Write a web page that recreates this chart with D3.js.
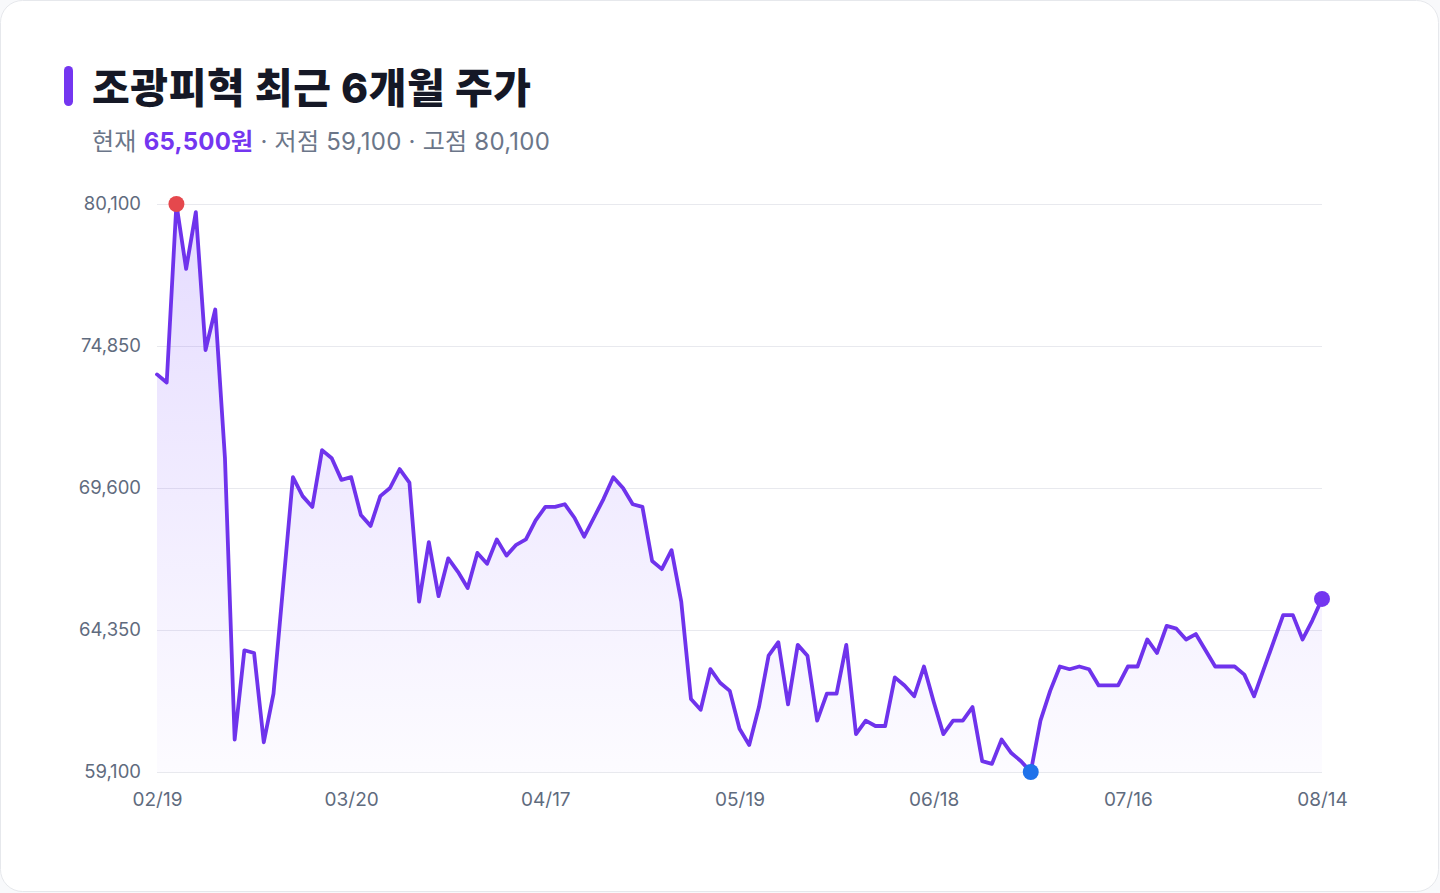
<!DOCTYPE html>
<html lang="ko">
<head>
<meta charset="utf-8">
<script src="https://cdn.jsdelivr.net/npm/d3@7"></script>
<style>
  html, body { margin: 0; padding: 0; background: #f8f9fb; }
  body { width: 1440px; height: 893px; overflow: hidden; font-family: "Inter", "Noto Sans CJK KR", sans-serif; }
  #chart { position: absolute; left: 0; top: 0; }
</style>
</head>
<body>
<div id="chart"></div>
<script>
// 종가 (거래일 기준, 02/19 ~ 08/14)
const prices = [
  73800, 73500, 80100, 77700, 79800, 74700, 76200, 70700, 60300, 63600,
  63500, 60200, 62000, 66000, 70000, 69300, 68900, 71000, 70700, 69900,
  70000, 68600, 68200, 69300, 69600, 70300, 69800, 65400, 67600, 65600,
  67000, 66500, 65900, 67200, 66800, 67700, 67100, 67500, 67700, 68400,
  68900, 68900, 69000, 68500, 67800, 68500, 69200, 70000, 69600, 69000,
  68900, 66900, 66600, 67300, 65400, 61800, 61400, 62900, 62400, 62100,
  60700, 60100, 61500, 63400, 63900, 61600, 63800, 63400, 61000, 62000,
  62000, 63800, 60500, 61000, 60800, 60800, 62600, 62300, 61900, 63000,
  61700, 60500, 61000, 61000, 61500, 59500, 59400, 60300, 59800, 59500,
  59100, 61000, 62100, 63000, 62900, 63000, 62900, 62300, 62300, 62300,
  63000, 63000, 64000, 63500, 64500, 64400, 64000, 64200, 63600, 63000,
  63000, 63000, 62700, 61900, 62900, 63900, 64900, 64900, 64000, 64700,
  65500
];
const tickIndex = [0, 20, 40, 60, 80, 100, 120];
const tickLabels = ["02/19", "03/20", "04/17", "05/19", "06/18", "07/16", "08/14"];
const yTicks = [59100, 64350, 69600, 74850, 80100];

const width = 1440, height = 893,
    margin = ({top: 204, right: 118, bottom: 121, left: 157});

const fmt = d3.format(",");
const lineColor = "#6f33ec";

const svg = d3.select("#chart")
    .append("svg")
    .attr("width", width)
    .attr("height", height)
    .attr("viewBox", [0, 0, width, height]);

// 카드 배경
svg.append("rect")
    .attr("x", 0.5).attr("y", 0.5)
    .attr("width", width - 2).attr("height", height - 2)
    .attr("rx", 22)
    .attr("fill", "#fff")
    .attr("stroke", "#e6e8ec");

// 제목
svg.append("rect")
    .attr("x", 64).attr("y", 66)
    .attr("width", 9).attr("height", 40)
    .attr("rx", 4.5)
    .attr("fill", "#7436f0");

svg.append("text")
    .attr("x", 92).attr("y", 103)
    .attr("font-size", 41)
    .attr("font-weight", 800)
    .attr("fill", "#151826")
    .attr("letter-spacing", 0.6)
    .text("조광피혁 최근 6개월 주가");

const sub = svg.append("text")
    .attr("x", 92).attr("y", 150)
    .attr("font-size", 24)
    .attr("letter-spacing", 0.25)
    .attr("fill", "#6b7689");
sub.append("tspan").text("현재 ");
sub.append("tspan")
    .attr("font-weight", 700)
    .attr("fill", "#7436f0")
    .text(fmt(prices[prices.length - 1]) + "원");
sub.append("tspan").text(" · 저점 " + fmt(d3.min(prices)) + " · 고점 " + fmt(d3.max(prices)));

let x = d3.scaleLinear()
    .domain([0, prices.length - 1])
    .range([margin.left, width - margin.right]);

let y = d3.scaleLinear()
    .domain([d3.min(prices), d3.max(prices)])
    .range([height - margin.bottom, margin.top]);

// 그리드 + y축
const yAxis = g => g
    .attr("transform", `translate(${margin.left}, 0)`)
    .call(d3.axisLeft(y).tickValues(yTicks).tickFormat(fmt).tickSize(-(width - margin.left - margin.right)).tickPadding(16))
    .call(g => g.select(".domain").remove())
    .call(g => g.selectAll(".tick line").attr("stroke", "#e8e9ee"))
    .call(g => g.selectAll(".tick text")
        .attr("font-size", 18.5)
        .attr("font-family", "Inter, sans-serif")
        .attr("fill", "#5f6b7e"));

const xAxis = g => g
    .attr("transform", `translate(0,${height - margin.bottom})`)
    .call(d3.axisBottom(x).tickValues(tickIndex).tickFormat((d, i) => tickLabels[i]).tickSize(0).tickPadding(21))
    .call(g => g.select(".domain").remove())
    .call(g => g.selectAll(".tick text")
        .attr("font-size", 19)
        .attr("font-family", "Inter, sans-serif")
        .attr("fill", "#5f6b7e"));

svg.append("g").call(yAxis);
svg.append("g").call(xAxis);

// 영역 그라데이션
const grad = svg.append("defs").append("linearGradient")
    .attr("id", "areaFill")
    .attr("x1", 0).attr("y1", 0).attr("x2", 0).attr("y2", 1);
grad.append("stop").attr("offset", "0%").attr("stop-color", "#7c4dff").attr("stop-opacity", 0.2);
grad.append("stop").attr("offset", "100%").attr("stop-color", "#7c4dff").attr("stop-opacity", 0.02);

const area = d3.area()
    .x((d, i) => x(i))
    .y0(y(d3.min(prices)))
    .y1(d => y(d));

const line = d3.line()
    .x((d, i) => x(i))
    .y(d => y(d));

svg.append("path")
    .datum(prices)
    .attr("d", area)
    .attr("fill", "url(#areaFill)");

svg.append("path")
    .datum(prices)
    .attr("d", line)
    .attr("fill", "none")
    .attr("stroke", lineColor)
    .attr("stroke-width", 3.8)
    .attr("stroke-linejoin", "round")
    .attr("stroke-linecap", "round");

// 고점 / 저점 / 현재 표시
const hiIdx = d3.maxIndex(prices), loIdx = d3.minIndex(prices), lastIdx = prices.length - 1;
const marks = [
    {i: hiIdx, color: "#e5484d"},
    {i: loIdx, color: "#1f72ea"},
    {i: lastIdx, color: "#7436f0"}
];
svg.selectAll(".mark")
    .data(marks)
    .join("circle")
    .attr("class", "mark")
    .attr("cx", d => x(d.i))
    .attr("cy", d => y(prices[d.i]))
    .attr("r", 8)
    .attr("fill", d => d.color);
</script>
</body>
</html>
